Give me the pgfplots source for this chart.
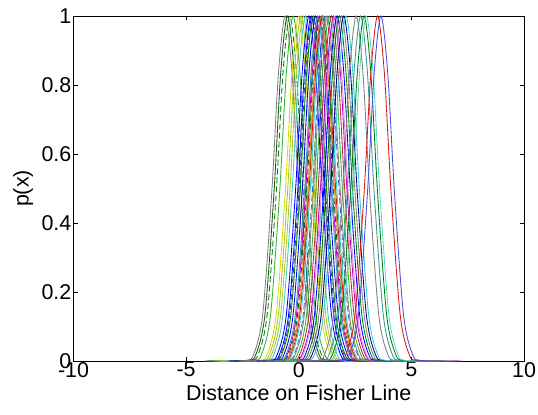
\documentclass[border=0pt]{standalone}
\usepackage{pgfplots}
\pgfplotsset{compat=1.18}
\usepackage{fontspec}
\setmainfont{Liberation Sans}
\definecolor{cGray}{rgb}{0.5,0.5,0.5}
\definecolor{cDkGreen}{rgb}{0.1,0.35,0.1}
\definecolor{cGreen}{rgb}{0,0.5,0}
\definecolor{cLGreen}{rgb}{0.2,0.7,0.2}
\definecolor{cYellow}{rgb}{0.85,0.85,0}
\definecolor{cLime}{rgb}{0.6,0.8,0.15}
\definecolor{cOlive}{rgb}{0.75,0.75,0.1}
\definecolor{cCyan}{rgb}{0.2,0.8,0.8}
\definecolor{cBlue}{rgb}{0,0,1}
\definecolor{cDBlue}{rgb}{0.15,0.3,0.6}
\definecolor{cTeal}{rgb}{0.2,0.6,0.6}
\definecolor{cMag}{rgb}{0.75,0,0.75}
\definecolor{cOrange}{rgb}{0.9,0.5,0.1}
\definecolor{cRed}{rgb}{0.85,0.1,0.1}
\definecolor{cSteel}{rgb}{0.2,0.45,0.7}
\definecolor{cBrick}{rgb}{0.7,0.2,0.2}
\definecolor{cOrchid}{rgb}{0.85,0.55,0.85}
\definecolor{cNavy}{rgb}{0,0,0.55}
\definecolor{cAqua}{rgb}{0.35,0.85,0.8}
\definecolor{cVBlue}{rgb}{0.3,0.3,0.9}
\begin{document}
\fontsize{21.5}{25}\selectfont
\begin{tikzpicture}
\path (-73.5bp,-54bp) rectangle (464.5bp,361bp);
\begin{axis}[
  at={(0,0)}, anchor=south west,
  scale only axis, width=450.5bp, height=345bp,
  xmin=-10, xmax=10, ymin=0, ymax=1,
  xtick={-10,-5,0,5,10}, ytick={0,0.2,0.4,0.6,0.8,1},
  tick align=inside, major tick length=4.5bp,
  tick style={black, line width=0.5bp},
  axis line style={line width=0.6bp},
  /pgf/number format/assume math mode=true,
  tick label style={font=\fontsize{21.5}{25}\selectfont},
  label style={font=\fontsize{21.5}{25}\selectfont},
  xticklabel style={inner sep=1bp},
  yticklabel style={inner sep=2bp},
  xlabel={Distance on Fisher Line}, ylabel={p(x)},
  xlabel style={yshift=1bp},
  ylabel style={yshift=-1bp},
  clip=false,
  every axis plot/.append style={line width=0.85bp, smooth, no markers, solid},
]
\addplot[cGray] coordinates {(-4.2,0)(-2.4,0.0015)(-2.0,0.0198)(-1.6,0.135)(-1.2,0.487)(-0.9,0.835)(-0.6,1)(-0.3,0.835)(0.0,0.487)(0.4,0.135)(0.8,0.0198)(1.2,0.0015)(3.0,0)};
\addplot[cDkGreen] coordinates {(-4.1,0)(-2.3,0.0015)(-1.9,0.0198)(-1.5,0.135)(-1.1,0.487)(-0.8,0.835)(-0.5,1)(-0.2,0.835)(0.1,0.487)(0.5,0.135)(0.9,0.0198)(1.3,0.0015)(3.1,0)};
\addplot[cGreen, dash pattern=on 6bp off 3bp] coordinates {(-4.0,0)(-2.2,0.0015)(-1.8,0.0198)(-1.4,0.135)(-1.0,0.487)(-0.7,0.835)(-0.4,1)(-0.1,0.835)(0.2,0.487)(0.6,0.135)(1.0,0.0198)(1.4,0.0015)(3.2,0)};
\addplot[cLGreen] coordinates {(-3.85,0)(-2.05,0.0015)(-1.65,0.0198)(-1.25,0.135)(-0.85,0.487)(-0.55,0.835)(-0.25,1)(0.05,0.835)(0.35,0.487)(0.75,0.135)(1.15,0.0198)(1.55,0.0015)(3.35,0)};
\addplot[cYellow] coordinates {(-3.6,0)(-1.8,0.0015)(-1.4,0.0198)(-1.0,0.135)(-0.6,0.487)(-0.3,0.835)(0,1)(0.3,0.835)(0.6,0.487)(1.0,0.135)(1.4,0.0198)(1.8,0.0015)(3.6,0)};
\addplot[cLime] coordinates {(-3.5,0)(-1.7,0.0015)(-1.3,0.0198)(-0.9,0.135)(-0.5,0.487)(-0.2,0.835)(0.1,1)(0.4,0.835)(0.7,0.487)(1.1,0.135)(1.5,0.0198)(1.9,0.0015)(3.7,0)};
\addplot[cOlive] coordinates {(-3.4,0)(-1.6,0.0015)(-1.2,0.0198)(-0.8,0.135)(-0.4,0.487)(-0.1,0.835)(0.2,1)(0.5,0.835)(0.8,0.487)(1.2,0.135)(1.6,0.0198)(2.0,0.0015)(3.8,0)};
\addplot[cCyan] coordinates {(-3.3,0)(-1.5,0.0015)(-1.1,0.0198)(-0.7,0.135)(-0.3,0.487)(0.0,0.835)(0.3,1)(0.6,0.835)(0.9,0.487)(1.3,0.135)(1.7,0.0198)(2.1,0.0015)(3.9,0)};
\addplot[cBlue] coordinates {(-3.15,0)(-1.35,0.0015)(-0.95,0.0198)(-0.55,0.135)(-0.15,0.487)(0.15,0.835)(0.45,1)(0.75,0.835)(1.05,0.487)(1.45,0.135)(1.85,0.0198)(2.25,0.0015)(4.05,0)};
\addplot[cBlue] coordinates {(-3.05,0)(-1.25,0.0015)(-0.85,0.0198)(-0.45,0.135)(-0.05,0.487)(0.25,0.835)(0.55,1)(0.85,0.835)(1.15,0.487)(1.55,0.135)(1.95,0.0198)(2.35,0.0015)(4.15,0)};
\addplot[cDBlue, dash pattern=on 6bp off 3bp] coordinates {(-3.0,0)(-1.2,0.0015)(-0.8,0.0198)(-0.4,0.135)(0.0,0.487)(0.3,0.835)(0.6,1)(0.9,0.835)(1.2,0.487)(1.6,0.135)(2.0,0.0198)(2.4,0.0015)(4.2,0)};
\addplot[cGreen] coordinates {(-2.95,0)(-1.15,0.0015)(-0.75,0.0198)(-0.35,0.135)(0.05,0.487)(0.35,0.835)(0.65,1)(0.95,0.835)(1.25,0.487)(1.65,0.135)(2.05,0.0198)(2.45,0.0015)(4.25,0)};
\addplot[cBlue] coordinates {(-2.85,0)(-1.05,0.0015)(-0.65,0.0198)(-0.25,0.135)(0.15,0.487)(0.45,0.835)(0.75,1)(1.05,0.835)(1.35,0.487)(1.75,0.135)(2.15,0.0198)(2.55,0.0015)(4.35,0)};
\addplot[cTeal] coordinates {(-2.75,0)(-0.95,0.0015)(-0.55,0.0198)(-0.15,0.135)(0.25,0.487)(0.55,0.835)(0.85,1)(1.15,0.835)(1.45,0.487)(1.85,0.135)(2.25,0.0198)(2.65,0.0015)(4.45,0)};
\addplot[cMag] coordinates {(-2.7,0)(-0.9,0.0015)(-0.5,0.0198)(-0.1,0.135)(0.3,0.487)(0.6,0.835)(0.9,1)(1.2,0.835)(1.5,0.487)(1.9,0.135)(2.3,0.0198)(2.7,0.0015)(4.5,0)};
\addplot[cDkGreen, dash pattern=on 6bp off 3bp] coordinates {(-2.65,0)(-0.85,0.0015)(-0.45,0.0198)(-0.05,0.135)(0.35,0.487)(0.65,0.835)(0.95,1)(1.25,0.835)(1.55,0.487)(1.95,0.135)(2.35,0.0198)(2.75,0.0015)(4.55,0)};
\addplot[cOrange] coordinates {(-2.6,0)(-0.8,0.0015)(-0.4,0.0198)(0.0,0.135)(0.4,0.487)(0.7,0.835)(1.0,1)(1.3,0.835)(1.6,0.487)(2.0,0.135)(2.4,0.0198)(2.8,0.0015)(4.6,0)};
\addplot[cRed] coordinates {(-2.55,0)(-0.75,0.0015)(-0.35,0.0198)(0.05,0.135)(0.45,0.487)(0.75,0.835)(1.05,1)(1.35,0.835)(1.65,0.487)(2.05,0.135)(2.45,0.0198)(2.85,0.0015)(4.65,0)};
\addplot[cCyan] coordinates {(-2.5,0)(-0.7,0.0015)(-0.3,0.0198)(0.1,0.135)(0.5,0.487)(0.8,0.835)(1.1,1)(1.4,0.835)(1.7,0.487)(2.1,0.135)(2.5,0.0198)(2.9,0.0015)(4.7,0)};
\addplot[cSteel, dash pattern=on 6bp off 3bp] coordinates {(-2.4,0)(-0.6,0.0015)(-0.2,0.0198)(0.2,0.135)(0.6,0.487)(0.9,0.835)(1.2,1)(1.5,0.835)(1.8,0.487)(2.2,0.135)(2.6,0.0198)(3.0,0.0015)(4.8,0)};
\addplot[cGray] coordinates {(-2.35,0)(-0.55,0.0015)(-0.15,0.0198)(0.25,0.135)(0.65,0.487)(0.95,0.835)(1.25,1)(1.55,0.835)(1.85,0.487)(2.25,0.135)(2.65,0.0198)(3.05,0.0015)(4.85,0)};
\addplot[cLGreen] coordinates {(-2.25,0)(-0.45,0.0015)(-0.05,0.0198)(0.35,0.135)(0.75,0.487)(1.05,0.835)(1.35,1)(1.65,0.835)(1.95,0.487)(2.35,0.135)(2.75,0.0198)(3.15,0.0015)(4.95,0)};
\addplot[cBrick] coordinates {(-2.15,0)(-0.35,0.0015)(0.05,0.0198)(0.45,0.135)(0.85,0.487)(1.15,0.835)(1.45,1)(1.75,0.835)(2.05,0.487)(2.45,0.135)(2.85,0.0198)(3.25,0.0015)(5.05,0)};
\addplot[cMag] coordinates {(-2.05,0)(-0.25,0.0015)(0.15,0.0198)(0.55,0.135)(0.95,0.487)(1.25,0.835)(1.55,1)(1.85,0.835)(2.15,0.487)(2.55,0.135)(2.95,0.0198)(3.35,0.0015)(5.15,0)};
\addplot[cOrchid] coordinates {(-2.0,0)(-0.2,0.0015)(0.2,0.0198)(0.6,0.135)(1.0,0.487)(1.3,0.835)(1.6,1)(1.9,0.835)(2.2,0.487)(2.6,0.135)(3.0,0.0198)(3.4,0.0015)(5.2,0)};
\addplot[cBlue] coordinates {(-1.9,0)(-0.1,0.0015)(0.3,0.0198)(0.7,0.135)(1.1,0.487)(1.4,0.835)(1.7,1)(2.0,0.835)(2.3,0.487)(2.7,0.135)(3.1,0.0198)(3.5,0.0015)(5.3,0)};
\addplot[cGreen] coordinates {(-1.8,0)(0.0,0.0015)(0.4,0.0198)(0.8,0.135)(1.2,0.487)(1.5,0.835)(1.8,1)(2.1,0.835)(2.4,0.487)(2.8,0.135)(3.2,0.0198)(3.6,0.0015)(5.4,0)};
\addplot[cGray] coordinates {(-1.7,0)(0.1,0.0015)(0.5,0.0198)(0.9,0.135)(1.3,0.487)(1.6,0.835)(1.9,1)(2.2,0.835)(2.5,0.487)(2.9,0.135)(3.3,0.0198)(3.7,0.0015)(5.5,0)};
\addplot[cNavy] coordinates {(-1.6,0)(0.2,0.0015)(0.6,0.0198)(1.0,0.135)(1.4,0.487)(1.7,0.835)(2.0,1)(2.3,0.835)(2.6,0.487)(3.0,0.135)(3.4,0.0198)(3.8,0.0015)(5.6,0)};
\addplot[cCyan] coordinates {(-1.5,0)(0.3,0.0015)(0.7,0.0198)(1.1,0.135)(1.5,0.487)(1.8,0.835)(2.1,1)(2.4,0.835)(2.7,0.487)(3.1,0.135)(3.5,0.0198)(3.9,0.0015)(5.7,0)};
\addplot[cGray] coordinates {(-1.05,0)(0.75,0.0015)(1.15,0.0198)(1.55,0.135)(1.95,0.487)(2.25,0.835)(2.55,1)(2.85,0.835)(3.15,0.487)(3.55,0.135)(3.95,0.0198)(4.35,0.0015)(6.15,0)};
\addplot[cTeal] coordinates {(-0.85,0)(0.95,0.0015)(1.35,0.0198)(1.75,0.135)(2.15,0.487)(2.45,0.835)(2.75,1)(3.05,0.835)(3.35,0.487)(3.75,0.135)(4.15,0.0198)(4.55,0.0015)(6.35,0)};
\addplot[cGreen] coordinates {(-0.7,0)(1.1,0.0015)(1.5,0.0198)(1.9,0.135)(2.3,0.487)(2.6,0.835)(2.9,1)(3.2,0.835)(3.5,0.487)(3.9,0.135)(4.3,0.0198)(4.7,0.0015)(6.5,0)};
\addplot[cAqua] coordinates {(-0.6,0)(1.2,0.0015)(1.6,0.0198)(2.0,0.135)(2.4,0.487)(2.7,0.835)(3.0,1)(3.3,0.835)(3.6,0.487)(4.0,0.135)(4.4,0.0198)(4.8,0.0015)(6.6,0)};
\addplot[cRed] coordinates {(-0.1,0)(1.7,0.0015)(2.1,0.0198)(2.5,0.135)(2.9,0.487)(3.2,0.835)(3.5,1)(3.8,0.835)(4.1,0.487)(4.5,0.135)(4.9,0.0198)(5.3,0.0015)(7.1,0)};
\addplot[cVBlue] coordinates {(0.05,0)(1.85,0.0015)(2.25,0.0198)(2.65,0.135)(3.05,0.487)(3.35,0.835)(3.65,1)(3.95,0.835)(4.25,0.487)(4.65,0.135)(5.05,0.0198)(5.45,0.0015)(7.25,0)};
\end{axis}
\end{tikzpicture}
\end{document}
